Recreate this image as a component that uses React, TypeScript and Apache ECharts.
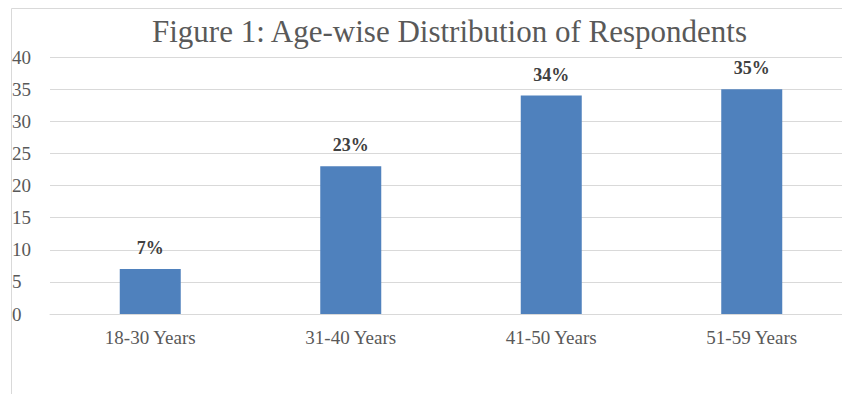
import React, { useEffect, useRef } from "react";
import * as echarts from "echarts";

const categories = ["18-30 Years", "31-40 Years", "41-50 Years", "51-59 Years"];
const values = [7, 23, 34, 35];
const valueLabels = ["7%", "23%", "34%", "35%"];
const titleText = "Figure 1: Age-wise Distribution of Respondents";

const SERIF = "'Liberation Serif', 'Times New Roman', serif";

export default function App() {
  const ref = useRef<HTMLDivElement>(null);

  useEffect(() => {
    document.body.style.margin = "0";
    if (!ref.current) return;
    const chart = echarts.init(ref.current, undefined, { renderer: "svg" });
    chart.setOption({
      animation: false,
      backgroundColor: "#ffffff",
      graphic: [
        {
          type: "rect",
          shape: { x: 11.5, y: 8.5, width: 900, height: 500 },
          style: { fill: "none", stroke: "#d9d9d9", lineWidth: 1 },
          silent: true,
        },
        {
          type: "text",
          x: 449.5,
          y: 31,
          style: {
            text: titleText,
            font: `31px ${SERIF}`,
            fill: "#595959",
            align: "center",
            verticalAlign: "middle",
          },
        },
      ],
      // plot area runs a little past the right edge of the canvas
      grid: {
        left: 50,
        top: 57,
        width: 802,
        height: 257,
        outerBoundsMode: "none",
        containLabel: false,
      },
      xAxis: {
        type: "category",
        data: categories,
        axisLine: { lineStyle: { color: "#d9d9d9" } },
        axisTick: { show: false },
        axisLabel: {
          margin: 14,
          color: "#595959",
          fontFamily: SERIF,
          fontSize: 19,
        },
      },
      yAxis: {
        type: "value",
        min: 0,
        max: 40,
        interval: 5,
        axisLine: { show: false },
        axisTick: { show: false },
        splitLine: { lineStyle: { color: "#d9d9d9" } },
        axisLabel: {
          align: "left",
          margin: 38,
          color: "#595959",
          fontFamily: SERIF,
          fontSize: 19,
        },
      },
      series: [
        {
          type: "bar",
          data: values,
          barWidth: 61,
          itemStyle: { color: "#4f81bd" },
          label: {
            show: true,
            position: "top",
            distance: 12,
            formatter: (p: any) => valueLabels[p.dataIndex],
            color: "#404040",
            fontFamily: SERIF,
            fontWeight: "bold",
            fontSize: 18,
          },
        },
      ],
    });
    return () => chart.dispose();
  }, []);

  return <div ref={ref} style={{ width: 842, height: 394 }} />;
}
